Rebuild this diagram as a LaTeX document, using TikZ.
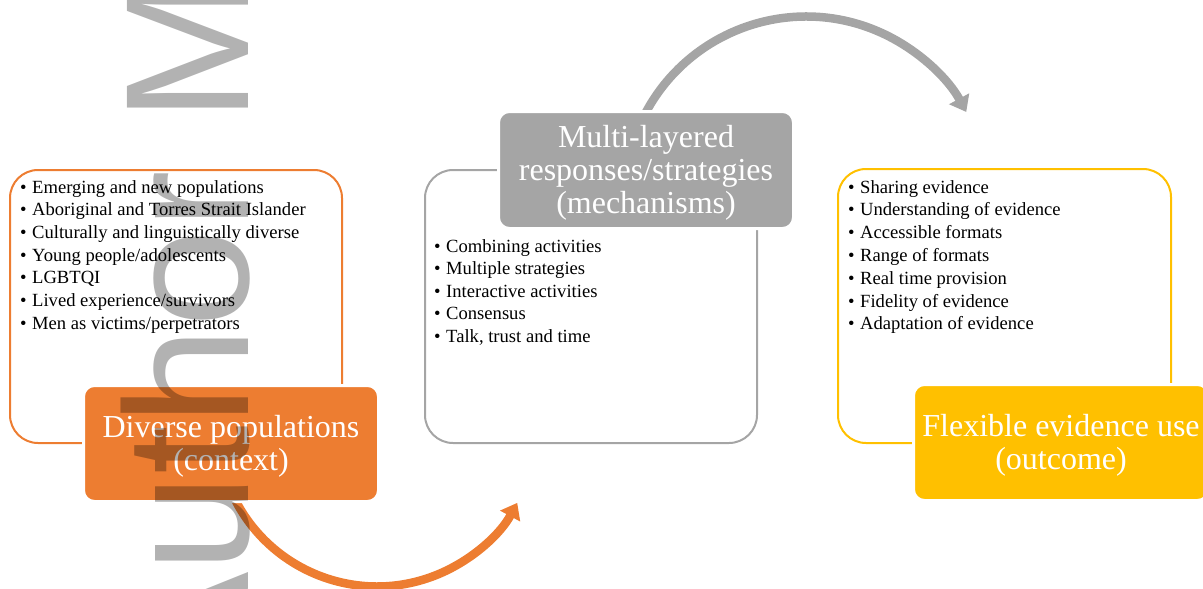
\documentclass[tikz,border=0pt]{standalone}
\usepackage{fontspec}
\setmainfont{Liberation Serif}
\newfontfamily\wmfont{Liberation Sans}
\usetikzlibrary{arrows.meta}
\definecolor{cOrange}{HTML}{ED7D31}
\definecolor{cGray}{HTML}{A5A5A5}
\definecolor{cYellow}{HTML}{FFC000}
\newcommand{\itembul}{\makebox[12pt][l]{\textbullet}}
\newcommand{\lowerstrut}{\rule{0pt}{27pt}}
\pgfdeclarelayer{bg}
\pgfsetlayers{bg,main}
\begin{document}
\begin{tikzpicture}[x=1pt,y=-1pt,
  framebox/.style={draw=#1, line width=2pt, rounded corners=28pt, minimum width=332pt, minimum height=273pt,
    anchor=north west, inner sep=0pt, outer sep=0pt},
  headbox/.style={fill=#1, draw=white, line width=3pt, rounded corners=11pt, text=white, align=center,
    font=\fontsize{32}{33}\selectfont, minimum width=295pt, minimum height=116pt, anchor=north west,
    inner sep=0pt, outer sep=0pt},
  item/.style={anchor=base west, inner sep=0pt, font=\fontsize{18.6}{22.6}\selectfont},
  flowarrow/.style={draw=#1, line width=8.5pt, -{Triangle[width=22pt,length=15pt]}},
  watermark/.style={rotate=90, anchor=base west, inner sep=0pt, text=black, opacity=0.3,
    font=\wmfont\fontsize{176}{176}\selectfont}]
\useasboundingbox (0,0) rectangle (1203,589);

% outline frames
\node[framebox=cOrange] (ctxframe) at (10,170) {};
\node[framebox=cGray] (mechframe) at (425,170) {};
\node[framebox=cYellow, minimum width=333pt, minimum height=274pt] (outframe) at (838,169) {};

% filled heading boxes
\node[headbox=cOrange] (ctx) at (83.5,385.5) {\lowerstrut Diverse populations\\(context)};
\node[headbox=cGray, minimum height=117pt] (mech) at (498.5,111.5) {\lowerstrut Multi-layered\\responses/strategies\\(mechanisms)};
\node[headbox=cYellow] (out) at (913.5,384.5) {\lowerstrut Flexible evidence use\\(outcome)};

% connectors (behind the boxes)
\coordinate (gs) at ([xshift=-2pt,yshift=-4.4pt]mech.north);
\coordinate (os) at ([xshift=0.4pt,yshift=9.6pt]ctx.south);
\begin{pgfonlayer}{bg}
\draw[flowarrow=cGray] (gs) arc[start angle=-153, end angle=-28.4, radius=182];
\draw[flowarrow=cOrange] (os) arc[start angle=156, end angle=28.4, radius=159.4];
\end{pgfonlayer}

% bullet lists
\foreach \t [count=\i] in {Emerging and new populations, Aboriginal and Torres Strait Islander,
  Culturally and linguistically diverse, Young people/adolescents, LGBTQI,
  Lived experience/survivors, Men as victims/perpetrators}
  \node[item] (ctx-\i) at (20,193+22.7*\i-22.7) {\itembul\t};
\foreach \t [count=\i] in {Combining activities, Multiple strategies, Interactive activities,
  Consensus, {Talk, trust and time}}
  \node[item] (mech-\i) at (434,252+22.5*\i-22.5) {\itembul\t};
\foreach \t [count=\i] in {Sharing evidence, Understanding of evidence, Accessible formats,
  Range of formats, Real time provision, Fidelity of evidence, Adaptation of evidence}
  \node[item] (out-\i) at (848,193+22.8*\i-22.8) {\itembul\t};

% watermark
\node[watermark] (wm) at (248,690) {Author Manuscript};
\end{tikzpicture}
\end{document}
